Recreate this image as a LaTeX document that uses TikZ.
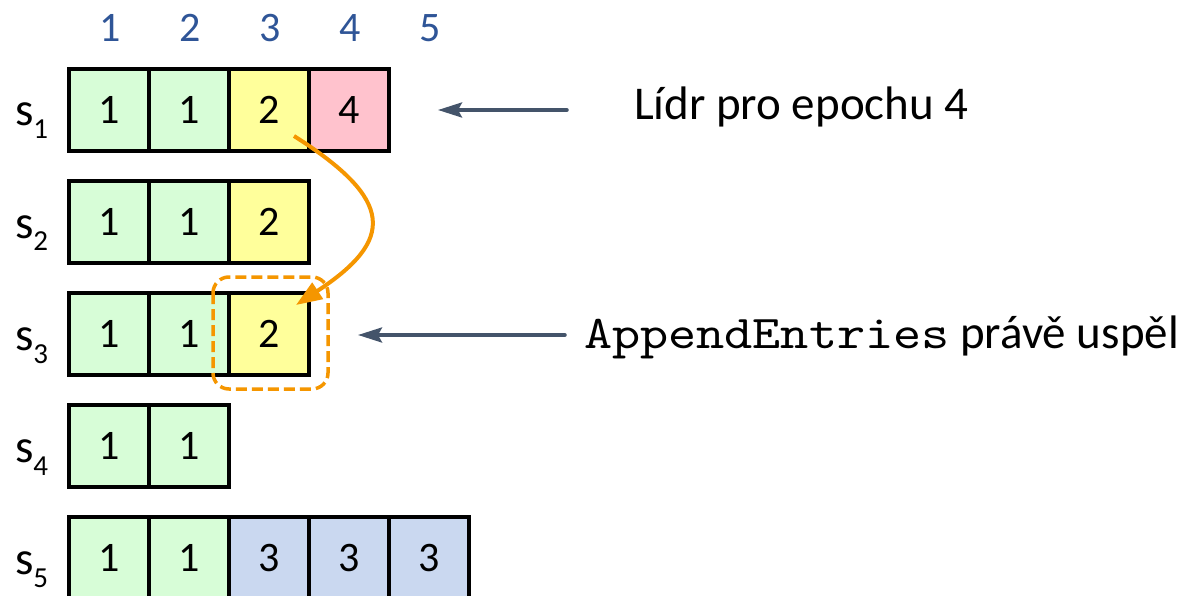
\documentclass[tikz,border=0pt]{standalone}
\usepackage{fontspec}
\setmainfont{Carlito}
\setmonofont[FakeStretch=1.14]{lmmono10-regular.otf}
\usetikzlibrary{arrows.meta}
\definecolor{term1}{RGB}{215, 253, 215}
\definecolor{term2}{RGB}{255, 255, 155}
\definecolor{term3}{RGB}{202, 216, 240}
\definecolor{term4}{RGB}{255, 194, 205}
\definecolor{index}{RGB}{47, 85, 151}
\definecolor{pointer}{RGB}{68, 84, 106}
\definecolor{replica}{RGB}{245, 150, 0}
% jmeno serveru s dolnim indexem
\newcommand\srv[1]{s\raisebox{-13pt}{\fontsize{29}{34}\selectfont #1}}

\begin{document}
\begin{tikzpicture}[x=1pt, y=-1pt, line width=4pt,
		cellfont/.style={font=\fontsize{42}{48}\selectfont},
		labelfont/.style={font=\fontsize{47}{54}\selectfont},
		note/.style={labelfont, inner sep=0pt, anchor=base west},
		server/.style={font=\fontsize{47}{54}\selectfont, inner sep=0pt, anchor=base west},
		pointer/.style={draw=pointer, line width=3.5pt, line cap=round, -{Stealth[length=24pt, width=15pt, inset=4pt]}}]
			\useasboundingbox (0, 0) rectangle (1191, 596);
			% indexy
			\node [cellfont, text=index] (i1) at (110, 28) {1};
			\node [cellfont, text=index] (i2) at (190, 28) {2};
			\node [cellfont, text=index] (i3) at (270, 28) {3};
			\node [cellfont, text=index] (i4) at (350, 28) {4};
			\node [cellfont, text=index] (i5) at (430, 28) {5};
			% servery
			\node [server] (n1) at (13, 126) {\srv{1}};
			\node [server] (n2) at (13, 238) {\srv{2}};
			\node [server] (n3) at (13, 350) {\srv{3}};
			\node [server] (n4) at (13, 462) {\srv{4}};
			\node [server] (n5) at (13, 574) {\srv{5}};
			% logy
			\filldraw [draw=black, fill=term1] (69, 69) rectangle (149, 151) node[midway, cellfont] (s11) {1};
			\filldraw [draw=black, fill=term1] (149, 69) rectangle (229, 151) node[midway, cellfont] (s12) {1};
			\filldraw [draw=black, fill=term2] (229, 69) rectangle (309, 151) node[midway, cellfont] (s13) {2};
			\filldraw [draw=black, fill=term4] (309, 69) rectangle (389, 151) node[midway, cellfont] (s14) {4};
			\filldraw [draw=black, fill=term1] (69, 181) rectangle (149, 263) node[midway, cellfont] (s21) {1};
			\filldraw [draw=black, fill=term1] (149, 181) rectangle (229, 263) node[midway, cellfont] (s22) {1};
			\filldraw [draw=black, fill=term2] (229, 181) rectangle (309, 263) node[midway, cellfont] (s23) {2};
			\filldraw [draw=black, fill=term1] (69, 293) rectangle (149, 375) node[midway, cellfont] (s31) {1};
			\filldraw [draw=black, fill=term1] (149, 293) rectangle (229, 375) node[midway, cellfont] (s32) {1};
			\filldraw [draw=black, fill=term2] (229, 293) rectangle (309, 375) node[midway, cellfont] (s33) {2};
			\filldraw [draw=black, fill=term1] (69, 405) rectangle (149, 487) node[midway, cellfont] (s41) {1};
			\filldraw [draw=black, fill=term1] (149, 405) rectangle (229, 487) node[midway, cellfont] (s42) {1};
			\filldraw [draw=black, fill=term1] (69, 517) rectangle (149, 599) node[midway, cellfont] (s51) {1};
			\filldraw [draw=black, fill=term1] (149, 517) rectangle (229, 599) node[midway, cellfont] (s52) {1};
			\filldraw [draw=black, fill=term3] (229, 517) rectangle (309, 599) node[midway, cellfont] (s53) {3};
			\filldraw [draw=black, fill=term3] (309, 517) rectangle (389, 599) node[midway, cellfont] (s54) {3};
			\filldraw [draw=black, fill=term3] (389, 517) rectangle (469, 599) node[midway, cellfont] (s55) {3};
			% replikace zaznamu na s3
			\draw [replica, line width=3.5pt, dash pattern=on 11pt off 5pt, rounded corners=16pt]
				([shift={(-56, -57)}]s33.center) rectangle ([shift={(59, 55)}]s33.center);
			\draw [replica, line width=4pt, -{Triangle[length=26pt, width=19pt]}]
				([shift={(25, 26)}]s13.center) .. controls (395, 200) and (395, 240) .. ([shift={(27, -29)}]s33.center);
			% popisky
			\node [note] (lidr) at (632, 120) {Lídr pro epochu 4};
			\node [note] (append) at (582, 348) {\fontsize{47}{54}\ttfamily AppendEntries\fontsize{47}{54}\rmfamily{} právě uspěl};
			\coordinate (t1) at (438, 110);
			\coordinate (t3) at (358, 335);
			\draw [pointer, shorten <=65pt] (lidr.west |- t1) -- (t1);
			\draw [pointer, shorten <=17pt] (append.west |- t3) -- (t3);
		\end{tikzpicture}
\end{document}
